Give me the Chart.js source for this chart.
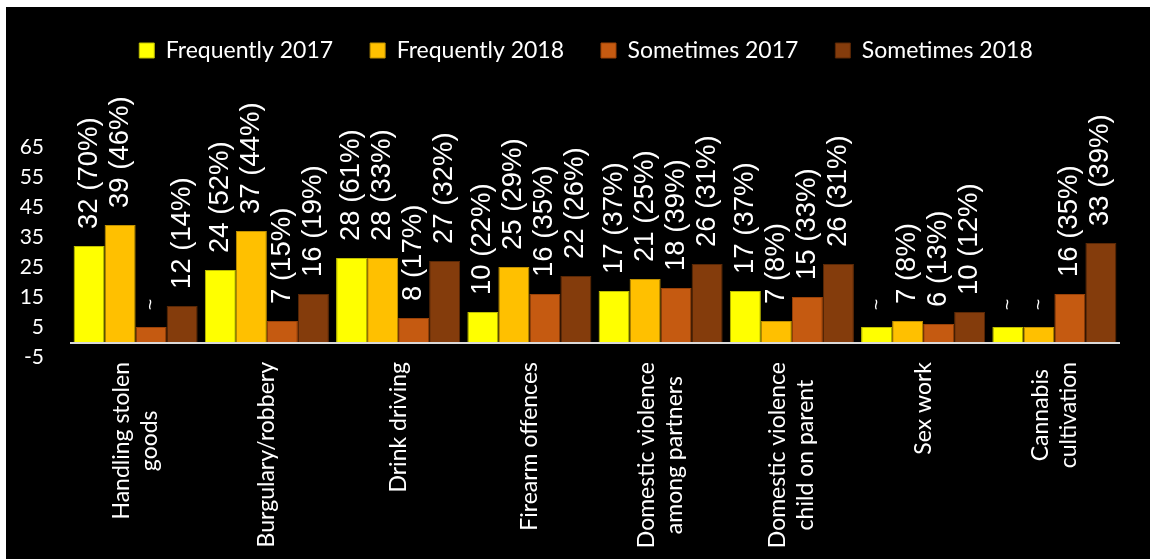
<!DOCTYPE html>
<html>
<head>
<meta charset="utf-8">
<script src="https://cdn.jsdelivr.net/npm/chart.js@4.4.1/dist/chart.umd.min.js"></script>
<style>
  html, body { margin: 0; padding: 0; background: #ffffff; width: 1150px; height: 559px; overflow: hidden; }
  #wrap { position: absolute; left: 6px; top: 7px; width: 1144px; height: 552px; background: #000000; }
  canvas { display: block; }
</style>
</head>
<body>
<div id="wrap"><canvas id="c" width="1144" height="552"></canvas></div>
<script>
// ---- data ----
const categories = [
  ['Handling stolen', 'goods'],
  ['Burgulary/robbery'],
  ['Drink driving'],
  ['Firearm offences'],
  ['Domestic violence', 'among partners'],
  ['Domestic violence', 'child on parent'],
  ['Sex work'],
  ['Cannabis', 'cultivation']
];
const seriesNames = ['Frequently 2017', 'Frequently 2018', 'Sometimes 2017', 'Sometimes 2018'];
// bar heights (suppressed "~" values are drawn at 5)
const frequently2017 = [32, 24, 28, 10, 17, 17, 5, 5];
const frequently2018 = [39, 37, 28, 25, 21, 7, 7, 5];
const sometimes2017  = [5, 7, 8, 16, 18, 15, 6, 16];
const sometimes2018  = [12, 16, 27, 22, 26, 26, 10, 33];
// percentages shown in labels (null = suppressed, shown as "~")
const frequently2017Pct = ['70%', '52%', '61%', '22%', '37%', '37%', null, null];
const frequently2018Pct = ['46%', '44%', '33%', '29%', '25%', '8%', '8%', null];
const sometimes2017Pct  = [null, '15%', '17%', '35%', '39%', '33%', '13%', '35%'];
const sometimes2018Pct  = ['14%', '19%', '32%', '26%', '31%', '31%', '12%', '39%'];
const yTicks = [-5, 5, 15, 25, 35, 45, 55, 65];

const seriesValues = [frequently2017, frequently2018, sometimes2017, sometimes2018];
const seriesPct = [frequently2017Pct, frequently2018Pct, sometimes2017Pct, sometimes2018Pct];
const fillColors = ['#FFFF00', '#FFC000', '#C55A11', '#843C0C'];
const edgeColors = ['#BDBD00', '#BF9000', '#9A4208', '#5A2806'];

// ---- plugins ----
const legendSpacer = {
  id: 'legendSpacer',
  beforeInit(chart) {
    const lg = chart.legend;
    const origFit = lg.fit;
    lg.fit = function () {
      origFit.call(this);
      this.height = 145;
    };
    const origDraw = lg.draw;
    lg.draw = function () {
      const ctx = this.ctx;
      ctx.save();
      ctx.translate(23, 0);
      origDraw.call(this);
      ctx.restore();
    };
  }
};

const zeroLine = {
  id: 'zeroLine',
  afterDatasetsDraw(chart) {
    const { ctx, chartArea, scales: { y } } = chart;
    const py = Math.round(y.getPixelForValue(0)) + 1;
    ctx.save();
    ctx.strokeStyle = '#D9D9D9';
    ctx.lineWidth = 2;
    ctx.beginPath();
    ctx.moveTo(chartArea.left, py);
    ctx.lineTo(chartArea.right, py);
    ctx.stroke();
    ctx.restore();
  }
};

const barLabels = {
  id: 'barLabels',
  afterDatasetsDraw(chart) {
    const { ctx } = chart;
    ctx.save();
    ctx.fillStyle = '#FFFFFF';
    ctx.textAlign = 'left';
    ctx.textBaseline = 'middle';
    chart.data.datasets.forEach((ds, di) => {
      const meta = chart.getDatasetMeta(di);
      meta.data.forEach((bar, i) => {
        const pct = seriesPct[di][i];
        const suppressed = pct === null;
        const text = suppressed ? '~' : ds.data[i] + ' (' + pct + ')';
        ctx.font = suppressed ? '19px "Liberation Sans", Arial, sans-serif' : '27.5px "Liberation Sans", Arial, sans-serif';
        ctx.save();
        ctx.translate(bar.x, bar.y - 17);
        ctx.rotate(-Math.PI / 2);
        ctx.fillText(text, 0, 0);
        ctx.restore();
      });
    });
    ctx.restore();
  }
};

const xLabels = {
  id: 'xLabels',
  afterDraw(chart) {
    const { ctx, chartArea, scales: { x } } = chart;
    ctx.save();
    ctx.font = '23px Lato, sans-serif';
    ctx.fillStyle = '#FFFFFF';
    ctx.textAlign = 'center';
    ctx.textBaseline = 'middle';
    const lh = 28;
    chart.data.labels.forEach((lines, i) => {
      const cx = x.getPixelForValue(i);
      const maxW = Math.max(...lines.map(l => ctx.measureText(l).width));
      const cy = chartArea.bottom + 5 + maxW / 2;
      ctx.save();
      ctx.translate(cx, cy);
      ctx.rotate(-Math.PI / 2);
      lines.forEach((ln, j) => ctx.fillText(ln, 0, (j - (lines.length - 1) / 2) * lh));
      ctx.restore();
    });
    ctx.restore();
  }
};

// ---- chart ----
new Chart(document.getElementById('c'), {
  type: 'bar',
  data: {
    labels: categories,
    datasets: seriesNames.map((name, k) => ({
      label: name,
      data: seriesValues[k],
      backgroundColor: fillColors[k],
      borderColor: edgeColors[k],
      borderWidth: 1,
      categoryPercentage: 0.945,
      barPercentage: 1.0
    }))
  },
  options: {
    responsive: false,
    devicePixelRatio: 1,
    animation: false,
    layout: { padding: { top: -5, left: 0, right: 30, bottom: 0 } },
    plugins: {
      legend: {
        position: 'top',
        align: 'center',
        labels: {
          color: '#FFFFFF',
          font: { family: 'Lato', size: 23 },
          boxWidth: 15,
          boxHeight: 15,
          padding: 37
        }
      },
      tooltip: { enabled: false }
    },
    scales: {
      x: {
        grid: { display: false, drawTicks: false },
        border: { display: false },
        ticks: { display: false },
        afterFit(scale) { scale.height = 202; }
      },
      y: {
        min: -5,
        max: 65,
        grid: { display: false, drawTicks: false },
        border: { display: false },
        afterBuildTicks(scale) { scale.ticks = yTicks.map(v => ({ value: v })); },
        afterFit(scale) { scale.width = 64; },
        ticks: {
          color: '#FFFFFF',
          font: { family: 'Lato', size: 21 },
          padding: 26
        }
      }
    }
  },
  plugins: [legendSpacer, zeroLine, barLabels, xLabels]
});
</script>
</body>
</html>
